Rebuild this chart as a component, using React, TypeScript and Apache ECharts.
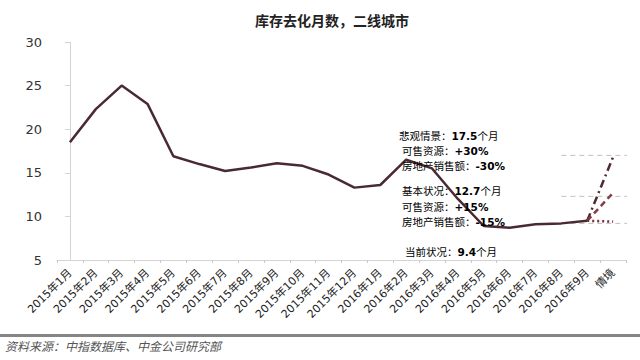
import React, { useEffect, useRef } from "react";
import * as echarts from "echarts";

const categories = [
  "2015年1月", "2015年2月", "2015年3月", "2015年4月", "2015年5月", "2015年6月",
  "2015年7月", "2015年8月", "2015年9月", "2015年10月", "2015年11月", "2015年12月",
  "2016年1月", "2016年2月", "2016年3月", "2016年4月", "2016年5月", "2016年6月",
  "2016年7月", "2016年8月", "2016年9月", "情境",
];
const historyValues = [
  18.5, 22.3, 25.0, 22.9, 16.9, 16.0, 15.2, 15.6, 16.1, 15.8, 14.8, 13.3,
  13.6, 16.5, 15.5, 12.0, 8.9, 8.7, 9.1, 9.2, 9.5, null,
];
const pessimisticValues = [...Array(20).fill(null), 9.5, 16.8];
const baseValues = [...Array(20).fill(null), 9.5, 12.7];
const currentValues = [...Array(20).fill(null), 9.5, 9.4];
const refLevels = [17.0, 12.3, 9.2];
const refStartEnd = [19, 21.75];

export default function App() {
  const ref = useRef<HTMLDivElement>(null);
  useEffect(() => {
    if (!ref.current) return;
    const chart = echarts.init(ref.current, undefined, { renderer: "svg" });
    const cjk = "'DejaVu Sans', 'Noto Sans CJK SC', sans-serif";
    const fs = 10;
    const lh = 14;
    const rich = {
      h: { fontFamily: "'Noto Sans CJK SC'", fontSize: fs + 0.5, color: "#5a3d48", lineHeight: lh },
      n: { fontFamily: "'Noto Sans CJK SC'", fontSize: fs + 0.5, color: "#2a2a2a", lineHeight: lh },
      b: { fontFamily: "'DejaVu Sans'", fontSize: fs + 0.5, fontWeight: "bold", color: "#2a2a2a", lineHeight: lh },
      bh: { fontFamily: "'DejaVu Sans'", fontSize: fs + 0.5, fontWeight: "bold", color: "#5a3d48", lineHeight: lh },
    };
    const ann = (x: number, y: number, text: string) => ({
      type: "text",
      left: x,
      top: y,
      style: { text, rich },
      z: 100,
    });
    chart.setOption({
      animation: false,
      title: {
        text: "库存去化月数，二线城市",
        left: 250,
        top: 8,
        textStyle: { fontFamily: "'Noto Sans CJK SC'", fontSize: 14, fontWeight: "bold", color: "#222" },
      },
      grid: { left: 57, right: 14, top: 42, bottom: 100 },
      xAxis: [
        {
          type: "category",
          data: categories,
          boundaryGap: true,
          axisLine: { lineStyle: { color: "#d4d4d4", width: 1 } },
          axisTick: { show: true, length: 3, lineStyle: { color: "#c8c8c8" } },
          axisLabel: { rotate: 45, fontSize: 11, color: "#222", fontFamily: cjk, margin: 11, interval: 0 },
        },
        { type: "value", min: -0.5, max: 21.5, show: false },
      ],
      yAxis: {
        type: "value",
        min: 5,
        max: 30,
        interval: 5,
        splitLine: { show: false },
        axisLine: { show: true, lineStyle: { color: "#d4d4d4" } },
        axisTick: { show: true, length: 5, lineStyle: { color: "#d4d4d4" } },
        axisLabel: { fontSize: 13, color: "#333", fontFamily: "'DejaVu Sans'", margin: 15 },
      },
      series: [
        ...refLevels.map((v) => ({
          type: "line",
          xAxisIndex: 1,
          data: [[refStartEnd[0], v], [refStartEnd[1], v]],
          symbol: "none",
          clip: false,
          silent: true,
          lineStyle: { color: "#c0c0c0", width: 1, type: [5, 4] },
        })),
        {
          type: "line",
          data: historyValues,
          symbol: "none",
          lineStyle: { color: "#4a2a32", width: 2.5 },
        },
        {
          type: "line",
          data: pessimisticValues,
          symbol: "none",
          lineStyle: { color: "#4e2a33", width: 2.5, type: [8, 4, 2, 4] },
        },
        {
          type: "line",
          data: baseValues,
          symbol: "none",
          lineStyle: { color: "#7e3f47", width: 2.5, type: [6, 4] },
        },
        {
          type: "line",
          data: currentValues,
          symbol: "none",
          lineStyle: { color: "#7a2a38", width: 2.5, type: [2, 3] },
        },
      ],
      graphic: [
        ann(399, 130, "{h|悲观情景：}{bh|17.5}{h|个月}"),
        ann(402, 145, "{n|可售资源：}{b|+30%}"),
        ann(402, 160, "{n|房地产销售额：}{b|-30%}"),
        ann(402, 185, "{h|基本状况：}{bh|12.7}{h|个月}"),
        ann(402, 201, "{n|可售资源：}{b|+15%}"),
        ann(402, 216, "{n|房地产销售额：}{b|-15%}"),
        ann(405, 246, "{h|当前状况：}{bh|9.4}{h|个月}"),
        {
          type: "rect",
          shape: { x: 0, y: 334, width: 640, height: 3 },
          style: { fill: "#858585" },
        },
        {
          type: "text",
          left: 5,
          top: 339,
          style: {
            text: "资料来源：中指数据库、中金公司研究部",
            fontFamily: "'Noto Sans CJK SC'",
            fontSize: 12,
            fontStyle: "italic",
            fill: "#555",
          },
        },
      ],
    });
    return () => chart.dispose();
  }, []);
  return <div ref={ref} style={{ width: 640, height: 360, position: "absolute", left: 0, top: 0 }} />;
}
